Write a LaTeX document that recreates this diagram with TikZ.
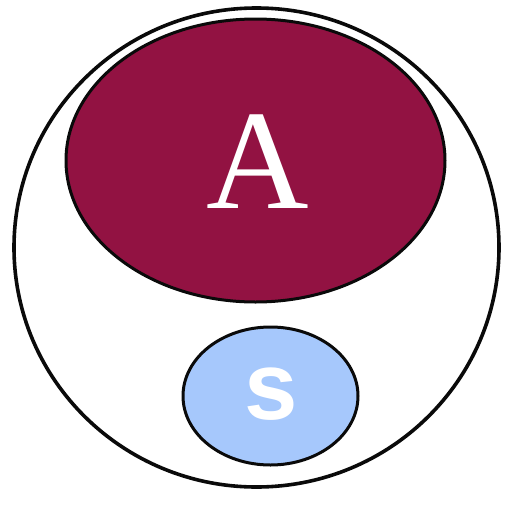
\documentclass[tikz,border=0pt]{standalone}
\definecolor{wine}{RGB}{146,18,66}
\definecolor{sky}{RGB}{166,200,252}
\definecolor{ink}{RGB}{10,10,10}
\usepackage{fontspec}
\setmainfont{Liberation Serif}
\newfontfamily\labelsans{Liberation Sans}
\usepackage{tikz}
\usetikzlibrary{positioning}

\begin{document}
\begin{tikzpicture}[x=1pt,y=-1pt]
        \useasboundingbox (0,0) rectangle (511,523);
        \draw[ink, line width=3.6pt] (256.5,247.5) ellipse [x radius=242.5, y radius=239.5];
        \draw[ink, line width=3pt, fill=wine] (255.5,160.5) ellipse [x radius=189.5, y radius=141.5];
        \draw[ink, line width=3pt, fill=sky] (270.5,396) ellipse [x radius=87.5, y radius=69];
        \node[text=white, font=\fontsize{142}{142}\selectfont, inner sep=0pt, anchor=base] (setA) at (257.5,208) {A};
        \node[text=white, font=\labelsans\bfseries\fontsize{96}{96}\selectfont, inner sep=0pt, anchor=base] (setS) at (271.5,419) {s};
      \end{tikzpicture}
\end{document}
